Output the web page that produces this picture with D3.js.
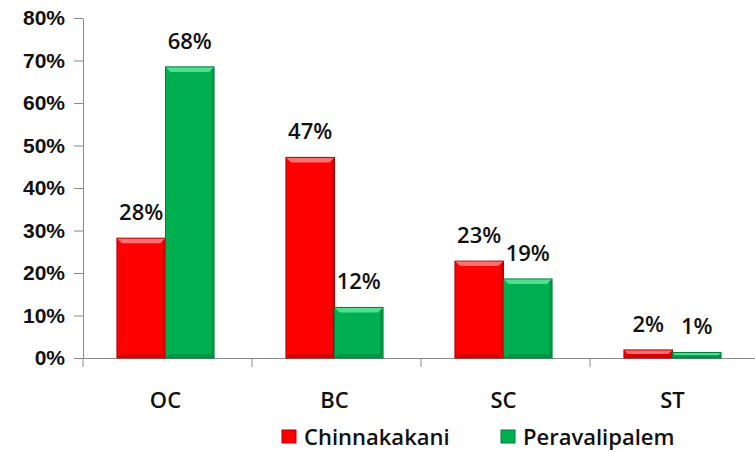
<!DOCTYPE html>
<html>
<head>
<meta charset="utf-8">
<script src="https://cdn.jsdelivr.net/npm/d3@7"></script>
<style>
  body { margin: 0; background: #fff; }
  svg { display: block; font-family: "Open Sans", "Liberation Sans", sans-serif; }
</style>
</head>
<body>
<script>
// Data
const categories = ["OC", "BC", "SC", "ST"];
const seriesNames = ["Chinnakakani", "Peravalipalem"];
const chinnakakani = [0.282, 0.472, 0.228, 0.019];
const peravalipalem = [0.685, 0.119, 0.186, 0.013];
const labelsChinna = ["28%", "47%", "23%", "2%"];
const labelsPerava = ["68%", "12%", "19%", "1%"];
const yTicks = [0, 0.1, 0.2, 0.3, 0.4, 0.5, 0.6, 0.7, 0.8];

// Chart dimensions
const width = 755;
const height = 452;
const marginTop = 18;
const marginLeft = 83;
const marginRight = -4;
const marginBottom = 94;

const colors = ["#ff0000", "#00b050"];
const darks = ["#b00000", "#007a38"];
const lights = ["#ff7070", "#4fe08f"];

const x = d3.scaleBand()
  .domain(categories)
  .range([marginLeft, width - marginRight]);

const x1 = d3.scaleBand()
  .domain(seriesNames)
  .range([-2, x.bandwidth() - 2])
  .paddingInner(0)
  .paddingOuter(0.74);

const y = d3.scaleLinear()
  .domain([0, 0.8])
  .range([height - marginBottom, marginTop]);

const svg = d3.select("body")
  .append("svg")
  .attr("width", width)
  .attr("height", height)
  .attr("viewBox", [0, 0, width, height]);

// y axis
const yAxis = svg.append("g")
  .attr("transform", `translate(${marginLeft},0)`)
  .call(d3.axisLeft(y).tickValues(yTicks).tickFormat(d3.format(".0%")).tickSize(9).tickPadding(9).tickSizeOuter(0));
yAxis.select(".domain").attr("stroke", "#898989");
yAxis.selectAll(".tick line").attr("stroke", "#898989");
yAxis.selectAll(".tick text")
  .attr("fill", "#111")
  .style("font-size", "21px")
  .style("font-weight", "bold");

// x axis
const xAxis = svg.append("g")
  .attr("transform", `translate(0,${y(0)})`)
  .call(d3.axisBottom(x).tickSize(0).tickSizeOuter(0).tickFormat(""));
xAxis.select(".domain").attr("stroke", "#898989");
xAxis.selectAll(".tick").remove();
// category boundary ticks
xAxis.selectAll(".sep")
  .data(categories)
  .join("line")
  .attr("class", "sep")
  .attr("x1", d => x(d))
  .attr("x2", d => x(d))
  .attr("y1", 0)
  .attr("y2", 9)
  .attr("stroke", "#898989");

svg.append("g")
  .selectAll("text")
  .data(categories)
  .join("text")
  .attr("x", d => x(d) + x.bandwidth() / 2 - 2)
  .attr("y", y(0) + 50)
  .attr("text-anchor", "middle")
  .attr("fill", "#111")
  .style("font-size", "22px")
  .style("font-weight", "600")
  .text(d => d);

// bars
const series = [chinnakakani, peravalipalem];
const labels = [labelsChinna, labelsPerava];

series.forEach((vals, s) => {
  const g = svg.append("g");
  const bars = g.selectAll("g")
    .data(categories.map((c, i) => ({ c, v: vals[i], label: labels[s][i] })))
    .join("g")
    .attr("transform", d => `translate(${x(d.c) + x1(seriesNames[s])},0)`);
  const w = x1.bandwidth();

  bars.append("rect")
    .attr("x", 0)
    .attr("y", d => y(d.v))
    .attr("width", w)
    .attr("height", d => y(0) - y(d.v))
    .attr("fill", colors[s])
    .attr("stroke", darks[s])
    .attr("stroke-width", 1);

  // bevel highlight on top
  bars.append("path")
    .attr("d", d => {
      const t = y(d.v), h = Math.min(5, (y(0) - t) / 2);
      return `M0.5,${t + 0.5}H${w - 0.5}L${w - h},${t + h}H${h}Z`;
    })
    .attr("fill", lights[s]);
  // bevel shadow at bottom and sides
  bars.append("path")
    .attr("d", d => {
      const t = y(d.v), b = y(0), h = Math.min(4, (b - t) / 2);
      return `M0.5,${b - 0.5}H${w - 0.5}L${w - h},${b - h}H${h}Z`;
    })
    .attr("fill", darks[s])
    .attr("opacity", 0.5);
  bars.append("path")
    .attr("d", d => {
      const t = y(d.v), b = y(0), h = Math.min(3, (b - t) / 2);
      return `M${w - 0.5},${t + 0.5}V${b - 0.5}L${w - h},${b - h}V${t + h}Z`;
    })
    .attr("fill", darks[s])
    .attr("opacity", 0.45);

  bars.append("text")
    .attr("x", w / 2)
    .attr("y", d => y(d.v) - 18)
    .attr("text-anchor", "middle")
    .attr("fill", "#111")
    .style("font-size", "22px")
    .style("font-weight", "600")
    .text(d => d.label);
});

// legend
const legendX = [282, 501];
const legend = svg.append("g");
seriesNames.forEach((name, i) => {
  legend.append("rect")
    .attr("x", legendX[i])
    .attr("y", 430)
    .attr("width", 14)
    .attr("height", 13)
    .attr("fill", colors[i])
    .attr("stroke", darks[i]);
  legend.append("text")
    .attr("x", legendX[i] + 22)
    .attr("y", 445)
    .attr("fill", "#111")
    .style("font-size", "22px")
    .style("font-weight", "600")
    .text(name);
});
</script>
</body>
</html>
